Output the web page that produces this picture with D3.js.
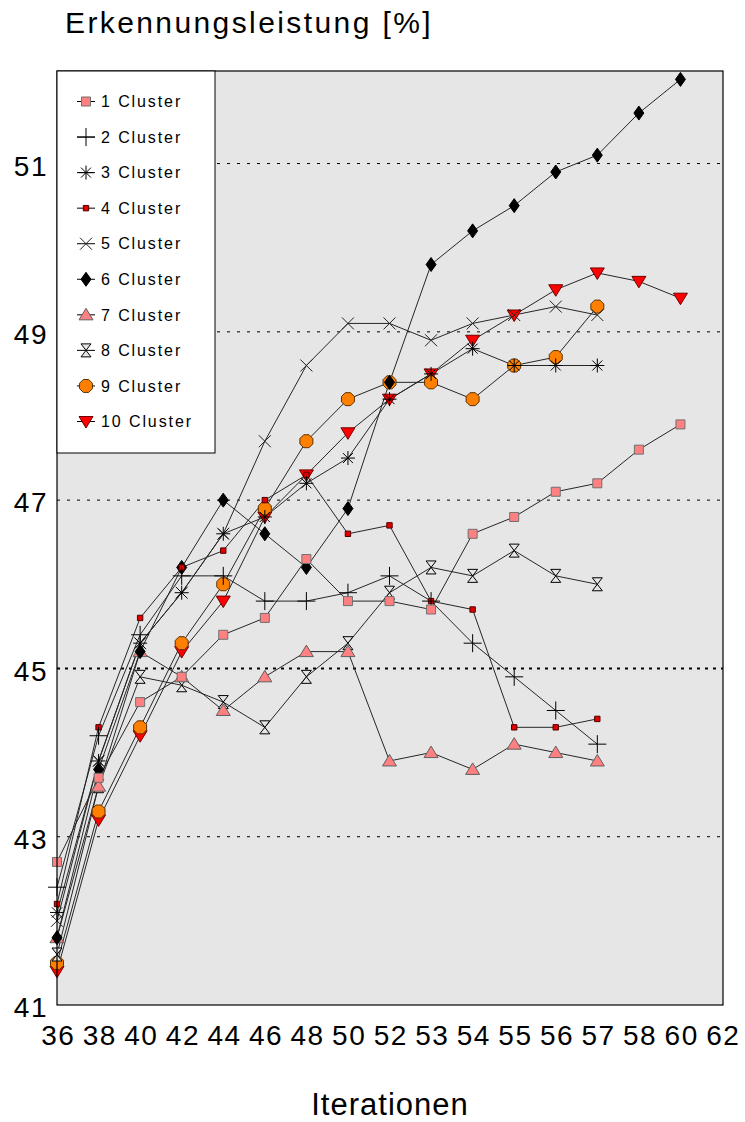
<!DOCTYPE html>
<html><head><meta charset="utf-8">
<script src="https://cdn.jsdelivr.net/npm/d3@7"></script>
<style>body{margin:0;background:#fff}svg{display:block}</style>
</head><body>
<svg id="c" width="745" height="1122"></svg>
<script>
const iterations = ["36","38","40","42","44","46","48","50","52","53","54","55","56","57","58","60","62"];
const seriesNames = ["1 Cluster","2 Cluster","3 Cluster","4 Cluster","5 Cluster","6 Cluster","7 Cluster","8 Cluster","9 Cluster","10 Cluster"];
const cluster1  = [42.7,43.7,44.6,44.9,45.4,45.6,46.3,45.8,45.8,45.7,46.6,46.8,47.1,47.2,47.6,47.9];
const cluster2  = [42.4,44.2,45.4,46.1,46.1,45.8,45.8,45.9,46.1,45.8,45.3,44.9,44.5,44.1];
const cluster3  = [42.1,43.9,45.3,45.9,46.6,46.8,47.2,47.5,48.2,48.5,48.8,48.6,48.6,48.6];
const cluster4  = [42.2,44.3,45.6,46.2,46.4,47.0,47.3,46.6,46.7,45.8,45.7,44.3,44.3,44.4];
const cluster5  = [42.0,43.9,45.3,45.9,46.6,47.7,48.6,49.1,49.1,48.9,49.1,49.2,49.3,49.2];
const cluster6  = [41.8,43.8,45.2,46.2,47.0,46.6,46.2,46.9,48.4,49.8,50.2,50.5,50.9,51.1,51.6,52.0];
const cluster7  = [41.8,43.6,45.2,44.9,44.5,44.9,45.2,45.2,43.9,44.0,43.8,44.1,44.0,43.9];
const cluster8  = [41.6,43.6,44.9,44.8,44.6,44.3,44.9,45.3,45.9,46.2,46.1,46.4,46.1,46.0];
const cluster9  = [41.5,43.3,44.3,45.3,46.0,46.9,47.7,48.2,48.4,48.4,48.2,48.6,48.7,49.3];
const cluster10 = [41.4,43.2,44.2,45.2,45.8,46.8,47.3,47.8,48.2,48.5,48.9,49.2,49.5,49.7,49.6,49.4];
const yTicks = [41,43,45,47,49,51];
const gridValues = [43,45,47,49,51];

const allSeries = [cluster1,cluster2,cluster3,cluster4,cluster5,cluster6,cluster7,cluster8,cluster9,cluster10];

const svg = d3.select("#c");
const L = 57, R = 723, T = 71, B = 1005;
const x = d3.scalePoint().domain(iterations).range([L, 722]);
const y = d3.scaleLinear().domain([41, 52.1]).range([B, T]);
const FONT = "'Liberation Sans', Arial, sans-serif";

// title
svg.append("text").attr("x", 65).attr("y", 33).attr("font-family", FONT)
  .attr("font-size", 30).attr("letter-spacing", 2.4).attr("fill", "#000")
  .text("Erkennungsleistung [%]");

// plot background
svg.append("rect").attr("x", L).attr("y", T).attr("width", R - L).attr("height", B - T)
  .attr("fill", "#e6e6e6").attr("stroke", "none");

// gridlines
svg.append("g").selectAll("line").data(gridValues).join("line")
  .attr("x1", L).attr("x2", R).attr("y1", d => y(d)).attr("y2", d => y(d))
  .attr("stroke", "#000")
  .attr("stroke-width", d => d === 45 ? 2 : 1)
  .attr("stroke-dasharray", d => d === 45 ? "3,5" : "3,7");

// marker shapes
function octagon(r){
  const pts = d3.range(8).map(i => { const a = Math.PI/8 + i*Math.PI/4; return [r*Math.cos(a), r*Math.sin(a)]; });
  return "M" + pts.map(p => p.join(",")).join("L") + "Z";
}
const markers = [
  {d: "M-4.5,-4.5H4.5V4.5H-4.5Z", fill: "#ff8080", stroke: "#707070"},
  {d: "M-9,0H9M0,-9V9", fill: "none", stroke: "#000"},
  {d: "M-7,0H7M0,-7V7M-5,-5L5,5M-5,5L5,-5", fill: "none", stroke: "#000"},
  {d: "M-2.7,-2.7H2.7V2.7H-2.7Z", fill: "#e00000", stroke: "#500000"},
  {d: "M-6,-6L6,6M-6,6L6,-6", fill: "none", stroke: "#222"},
  {d: "M0,-7L5,0L0,7L-5,0Z", fill: "#000", stroke: "#000"},
  {d: "M0,-6.5L7,5L-7,5Z", fill: "#ff8080", stroke: "#606060"},
  {d: "M-5,-6.5H5L-5,6.5H5Z", fill: "#e6e6e6", stroke: "#000"},
  {d: octagon(7), fill: "#ff8000", stroke: "#5a3000"},
  {d: "M-7,-5H7L0,6.5Z", fill: "#ff0000", stroke: "#700000"}
];

// lines
const line = d3.line().x((d,i) => x(iterations[i])).y(d => y(d));
const gLines = svg.append("g");
allSeries.forEach(s => {
  gLines.append("path").datum(s).attr("d", line).attr("fill", "none")
    .attr("stroke", "#262626").attr("stroke-width", 1);
});

// markers (drawn in reverse order so series 1 is on top)
const gMarks = svg.append("g");
for (let k = allSeries.length - 1; k >= 0; k--) {
  const m = markers[k];
  gMarks.append("g").selectAll("path").data(allSeries[k]).join("path")
    .attr("transform", (d,i) => `translate(${x(iterations[i])},${y(d)})`)
    .attr("d", m.d).attr("fill", m.fill).attr("stroke", m.stroke).attr("stroke-width", 1);
}

// frame
svg.append("rect").attr("x", L).attr("y", T).attr("width", R - L).attr("height", B - T)
  .attr("fill", "none").attr("stroke", "#000").attr("stroke-width", 1.2);

// legend
const lg = svg.append("g");
lg.append("rect").attr("x", L).attr("y", T).attr("width", 158).attr("height", 382)
  .attr("fill", "#fff").attr("stroke", "#000").attr("stroke-width", 1);
const ly = d3.scalePoint().domain(seriesNames).range([101.5, 421.5]);
seriesNames.forEach((n, k) => {
  const g = lg.append("g").attr("transform", `translate(86,${ly(n)})`);
  g.append("line").attr("x1", -9).attr("x2", 9).attr("stroke", "#000");
  g.append("path").attr("d", markers[k].d).attr("fill", markers[k].fill).attr("stroke", markers[k].stroke);
  lg.append("text").attr("x", 101).attr("y", ly(n)).attr("dy", "0.36em")
    .attr("font-family", FONT).attr("font-size", 16).attr("letter-spacing", 1.9)
    .attr("fill", "#000").text(n);
});

// axes
const ax = svg.append("g").attr("transform", `translate(0,${B})`)
  .call(d3.axisBottom(x).tickSize(0).tickPadding(20));
ax.select(".domain").remove();
ax.selectAll("text").attr("font-family", FONT).attr("font-size", 28).attr("letter-spacing", 1.5)
  .attr("fill", "#000").attr("dy", "0.71em").attr("dx", 0.75);

const ay = svg.append("g").attr("transform", `translate(${L},0)`)
  .call(d3.axisLeft(y).tickValues(yTicks).tickSize(0).tickPadding(9));
ay.select(".domain").remove();
ay.selectAll("text").attr("font-family", FONT).attr("font-size", 28).attr("letter-spacing", 1.5)
  .attr("fill", "#000").attr("dy", "0.42em");

svg.append("text").attr("x", 390).attr("y", 1115).attr("text-anchor", "middle")
  .attr("font-family", FONT).attr("font-size", 31).attr("letter-spacing", 1)
  .attr("fill", "#000").text("Iterationen");
</script>
</body></html>
